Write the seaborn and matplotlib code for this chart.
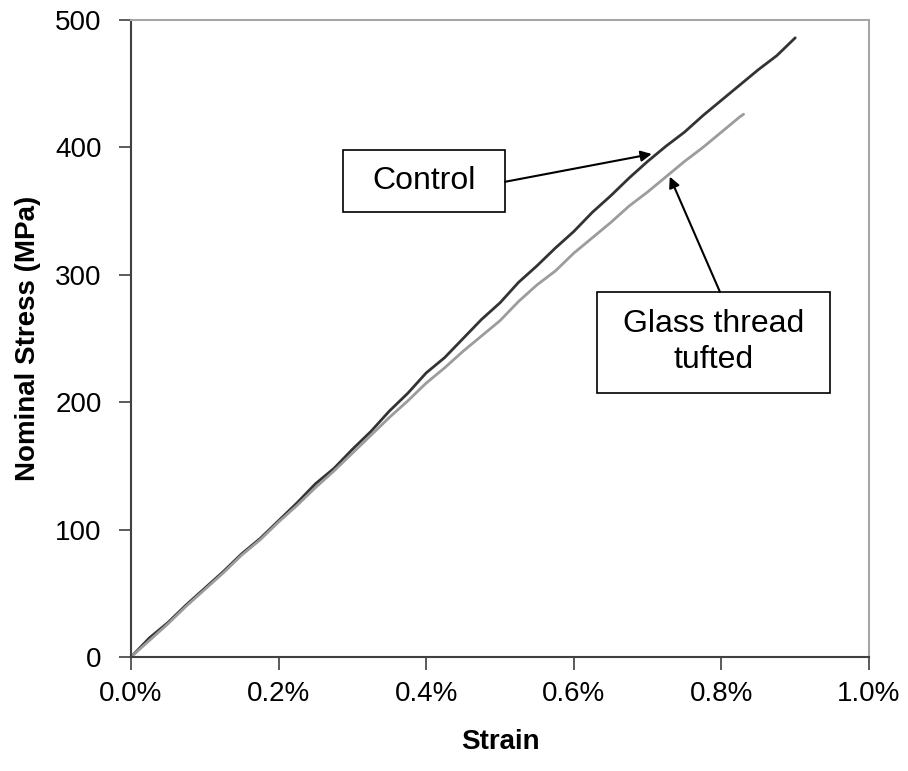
import numpy as np
import pandas as pd
import matplotlib
matplotlib.use("Agg")
import matplotlib.pyplot as plt
from matplotlib.patches import Rectangle
from matplotlib.ticker import FuncFormatter
import seaborn as sns

# Strain (%) and nominal stress (MPa)
control_strain = [0.000, 0.025, 0.050, 0.075, 0.100, 0.125, 0.150, 0.175, 0.200, 0.225,
                  0.250, 0.275, 0.300, 0.325, 0.350, 0.375, 0.400, 0.425, 0.450, 0.475,
                  0.500, 0.525, 0.550, 0.575, 0.600, 0.625, 0.650, 0.675, 0.700, 0.725,
                  0.750, 0.775, 0.800, 0.825, 0.850, 0.875, 0.900]
control_stress = [0, 15, 27, 41, 54, 67, 81, 93, 107, 121,
                  136, 148, 163, 177, 193, 207, 223, 235, 250, 265,
                  278, 294, 307, 321, 334, 349, 362, 376, 389, 401,
                  412, 425, 437, 449, 461, 472, 486]

glass_strain = [0.000, 0.025, 0.050, 0.075, 0.100, 0.125, 0.150, 0.175, 0.200, 0.225,
                0.250, 0.275, 0.300, 0.325, 0.350, 0.375, 0.400, 0.425, 0.450, 0.475,
                0.500, 0.525, 0.550, 0.575, 0.600, 0.625, 0.650, 0.675, 0.700, 0.725,
                0.750, 0.775, 0.800, 0.825, 0.830]
glass_stress = [0, 13, 26, 40, 53, 66, 80, 92, 106, 119,
                133, 146, 160, 174, 188, 201, 215, 227, 240, 252,
                264, 279, 292, 303, 317, 329, 341, 354, 365, 377,
                389, 400, 412, 424, 426]

x_ticks = [0.0, 0.2, 0.4, 0.6, 0.8, 1.0]
y_ticks = [0, 100, 200, 300, 400, 500]

df = pd.concat([
    pd.DataFrame({"Strain": control_strain, "Stress": control_stress, "Specimen": "Control"}),
    pd.DataFrame({"Strain": glass_strain, "Stress": glass_stress, "Specimen": "Glass thread tufted"}),
])

sns.set_style("ticks")
plt.rcParams["font.family"] = ["Liberation Sans", "DejaVu Sans"]
plt.rcParams["text.color"] = "black"
plt.rcParams["axes.labelcolor"] = "black"
plt.rcParams["xtick.labelcolor"] = "black"
plt.rcParams["ytick.labelcolor"] = "black"

fig = plt.figure(figsize=(9.08, 7.71), dpi=100)
ax = fig.add_axes([0.1443, 0.1479, 0.8128, 0.8262])

sns.lineplot(data=df, x="Strain", y="Stress", hue="Specimen", sort=False,
             palette={"Control": "#333333", "Glass thread tufted": "#9c9c9c"},
             linewidth=2, legend=False, ax=ax)

ax.set_xlim(0, 1.0)
ax.set_ylim(0, 500)
ax.set_xticks(x_ticks)
ax.set_yticks(y_ticks)
ax.xaxis.set_major_formatter(FuncFormatter(lambda v, p: f"{v:.1f}%"))
ax.tick_params(axis="both", labelsize=20, length=9, width=1.2, color="#404040",
               labelcolor="black", direction="out", pad=12)
ax.tick_params(axis="x", pad=8)

for side in ["left", "bottom"]:
    ax.spines[side].set_color("#404040")
    ax.spines[side].set_linewidth(1.5)
for side in ["top", "right"]:
    ax.spines[side].set_visible(True)
    ax.spines[side].set_color("#a6a6a6")
    ax.spines[side].set_linewidth(1.5)

ax.set_xlabel("Strain", fontsize=20, fontweight="bold", labelpad=16, color="black")
ax.set_ylabel("Nominal Stress (MPa)", fontsize=20, fontweight="bold", labelpad=10, color="black")

# Callout boxes with arrows
ax.add_patch(Rectangle((0.287, 349), 0.220, 49, facecolor="white",
                       edgecolor="black", linewidth=1.2, zorder=5))
ax.text(0.397, 373.5, "Control", fontsize=23, ha="center", va="center", zorder=6)
ax.annotate("", xy=(0.7055, 394.8), xytext=(0.507, 373),
            arrowprops=dict(arrowstyle="-|>", color="black", lw=1.5,
                            mutation_scale=16, shrinkA=0, shrinkB=0), zorder=6)

ax.add_patch(Rectangle((0.631, 207), 0.316, 79.5, facecolor="white",
                       edgecolor="black", linewidth=1.2, zorder=5))
ax.text(0.789, 247, "Glass thread\ntufted", fontsize=23, ha="center", va="center",
        linespacing=1.25, zorder=6)
ax.annotate("", xy=(0.730, 377), xytext=(0.798, 286.5),
            arrowprops=dict(arrowstyle="-|>", color="black", lw=1.5,
                            mutation_scale=16, shrinkA=0, shrinkB=0), zorder=6)

fig.savefig("out.png", dpi=100)
